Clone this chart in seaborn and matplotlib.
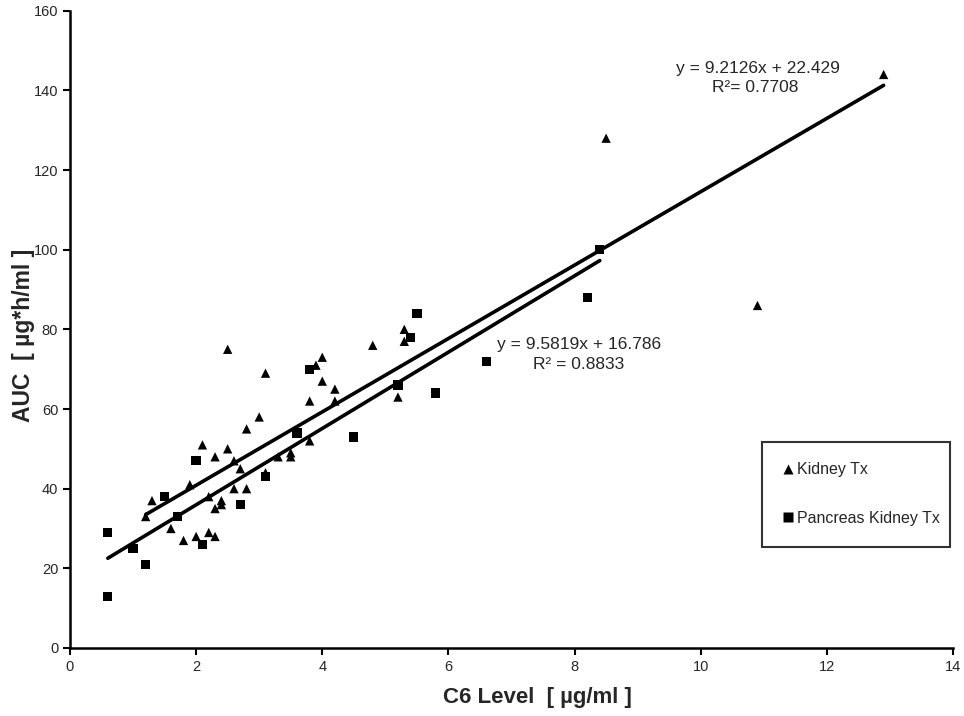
import numpy as np
import pandas as pd
import matplotlib
matplotlib.use('Agg')
import matplotlib.pyplot as plt
import seaborn as sns

# Kidney Tx (triangles)
kidney_x = [1.2, 1.3, 1.6, 1.8, 1.9, 2.0, 2.1, 2.2, 2.2, 2.3, 2.3, 2.3, 2.4, 2.4,
            2.5, 2.5, 2.6, 2.6, 2.7, 2.8, 2.8, 3.0, 3.1, 3.1, 3.3, 3.5, 3.5, 3.8,
            3.8, 3.9, 4.0, 4.0, 4.2, 4.2, 4.8, 5.2, 5.3, 5.3, 8.5, 10.9, 12.9]
kidney_y = [33, 37, 30, 27, 41, 28, 51, 38, 29, 48, 35, 28, 37, 36,
            75, 50, 47, 40, 45, 55, 40, 58, 69, 44, 48, 49, 48, 62,
            52, 71, 73, 67, 65, 62, 76, 63, 80, 77, 128, 86, 144]

# Pancreas Kidney Tx (squares)
pk_x = [0.6, 0.6, 1.0, 1.2, 1.5, 1.7, 2.0, 2.1, 2.7, 3.1, 3.6, 3.8, 4.5, 5.2,
        5.4, 5.5, 5.8, 6.6, 8.2, 8.4]
pk_y = [29, 13, 25, 21, 38, 33, 47, 26, 36, 43, 54, 70, 53, 66,
        78, 84, 64, 72, 88, 100]

# trendline coefficients as printed on the chart
kidney_fit = (9.2126, 22.429, 0.7708)
pk_fit = (9.5819, 16.786, 0.8833)

df = pd.concat([
    pd.DataFrame({'x': kidney_x, 'y': kidney_y, 'group': 'Kidney Tx'}),
    pd.DataFrame({'x': pk_x, 'y': pk_y, 'group': 'Pancreas Kidney Tx'}),
])

sns.set_style('ticks')
plt.rcParams['font.family'] = ['Liberation Sans', 'DejaVu Sans']

fig = plt.figure(figsize=(9.64, 7.16), dpi=100)
ax = fig.add_axes([0.0726, 0.095, 0.916, 0.890])

sns.scatterplot(data=df, x='x', y='y', hue='group', style='group',
                markers={'Kidney Tx': '^', 'Pancreas Kidney Tx': 's'},
                palette={'Kidney Tx': 'black', 'Pancreas Kidney Tx': 'black'},
                s=45, edgecolor='none', ax=ax, zorder=3)

# trend lines over each group's data range
for xs, (m, b, r2) in [(kidney_x, kidney_fit), (pk_x, pk_fit)]:
    lx = np.array([min(xs), max(xs)])
    sns.lineplot(x=lx, y=m * lx + b, color='black', lw=2.6, ax=ax, zorder=2)

ax.text(10.9, 145.6, 'y = 9.2126x + 22.429', ha='center', va='center', fontsize=12.5)
ax.text(10.87, 140.8, 'R\u00b2= 0.7708', ha='center', va='center', fontsize=12.5)
ax.text(8.07, 76.2, 'y = 9.5819x + 16.786', ha='center', va='center', fontsize=12.5)
ax.text(8.07, 71.3, 'R\u00b2 = 0.8833', ha='center', va='center', fontsize=12.5)

ax.set_xlim(0, 14)
ax.set_ylim(0, 160)
ax.set_xticks(range(0, 15, 2))
ax.set_yticks(range(0, 161, 20))
ax.tick_params(labelsize=10.5, length=5, width=1.5, color='black')
for side in ['left', 'bottom']:
    ax.spines[side].set_linewidth(1.8)
    ax.spines[side].set_color('black')
sns.despine(ax=ax)

ax.set_xlabel('C6 Level  [ \u00b5g/ml ]', fontsize=16, fontweight='bold')
ax.xaxis.set_label_coords(0.529, -0.062)
ax.set_ylabel('AUC  [ \u00b5g*h/ml ]', fontsize=16.5, fontweight='bold')
ax.yaxis.set_label_coords(-0.04, 0.49)

leg = ax.legend(loc='lower left', bbox_to_anchor=(0.784, 0.159, 0.213, 0.16),
                mode='expand', frameon=True, fancybox=False, fontsize=11.5,
                labelspacing=2.1, borderpad=1.3, borderaxespad=0, handlelength=0.6,
                handletextpad=0.3, markerscale=1.0)
leg.get_frame().set_edgecolor('black')
leg.get_frame().set_linewidth(1.5)

fig.savefig('out.png', dpi=100)
